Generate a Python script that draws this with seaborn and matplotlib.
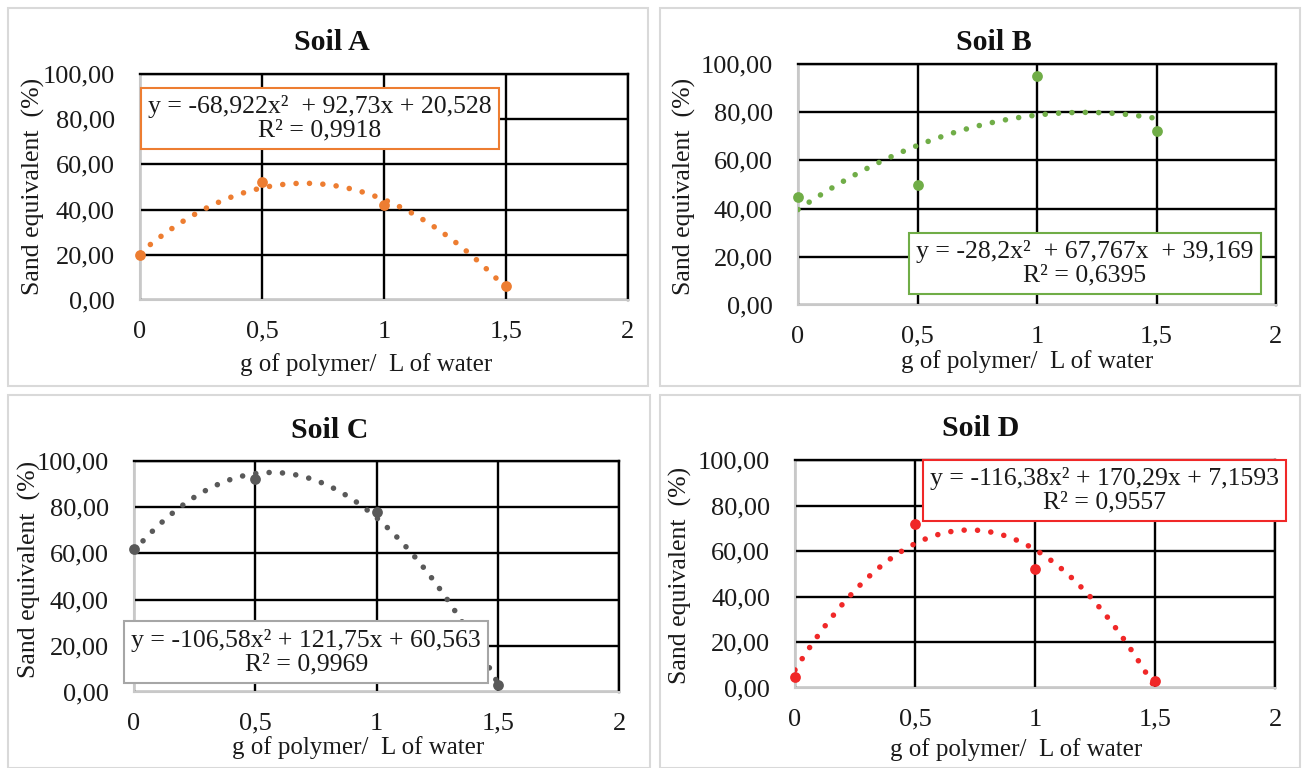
import matplotlib
matplotlib.use("Agg")
import matplotlib.pyplot as plt
import seaborn as sns
import pandas as pd
from matplotlib.patches import Rectangle

sns.set_theme(style="white")
plt.rcParams['font.family'] = ['Liberation Serif', 'DejaVu Serif']

# ---- data ----
dose = [0, 0.5, 1.0, 1.5]
soil_a = [20, 52, 42, 6]
soil_b = [45, 50, 95, 72]
soil_c = [62, 92, 78, 3]
soil_d = [5, 72, 52, 3]
titles = ["Soil A", "Soil B", "Soil C", "Soil D"]
equations = [
    "y = -68,922x\u00b2  + 92,73x + 20,528\nR\u00b2 = 0,9918",
    "y = -28,2x\u00b2  + 67,767x  + 39,169\nR\u00b2 = 0,6395",
    "y = -106,58x\u00b2 + 121,75x + 60,563\nR\u00b2 = 0,9969",
    "y = -116,38x\u00b2 + 170,29x + 7,1593\nR\u00b2 = 0,9557",
]
xticks = [0, 0.5, 1, 1.5, 2]
xticklabels = ["0", "0,5", "1", "1,5", "2"]
yticks = [0, 20, 40, 60, 80, 100]
yticklabels = ["0,00", "20,00", "40,00", "60,00", "80,00", "100,00"]
colors = ["#ED7D31", "#70AD47", "#595959", "#F02828"]

W, H = 1307, 768
fig = plt.figure(figsize=(W / 100, H / 100), dpi=100)
fig.patch.set_facecolor("white")

def fx(px):
    return px / W

def fy(py):
    return 1 - py / H

# panel frames (pixel coords)
frames = [(8, 8, 648, 386), (660, 8, 1300, 386), (8, 395, 650, 768), (660, 395, 1300, 768)]
for (x0, y0, x1, y1) in frames:
    fig.patches.append(Rectangle((fx(x0), fy(y1)), fx(x1 - x0), (y1 - y0) / H,
                                 transform=fig.transFigure, fill=False,
                                 edgecolor="#d9d9d9", linewidth=1.5))

# axes pixel boxes: left, right, top, bottom
boxes = [(140, 628, 74, 300), (798, 1276, 64, 305), (134, 619, 461, 692), (795, 1275, 460, 688)]
title_pos = [(332, 43), (994, 43), (330, 430), (981, 428)]
xlabel_pos = [(366, 365), (1027, 362), (358, 748), (1016, 750)]
ylabel_pos = [(33, 186), (684, 186), (29, 569), (680, 575)]
# equation box centers in data coords
eq_pos = [(0.738, 80.5), (1.2, 17.2), (0.71, 17.3), (1.29, 86.8)]

series = [soil_a, soil_b, soil_c, soil_d]

for i in range(4):
    l, r, t, b = boxes[i]
    ax = fig.add_axes([fx(l), fy(b), fx(r - l), (b - t) / H])
    df = pd.DataFrame({"x": dose, "y": series[i]})
    ax.set_xlim(0, 2)
    ax.set_ylim(0, 100)
    ax.set_xticks(xticks)
    ax.set_xticklabels(xticklabels)
    ax.set_yticks(yticks)
    ax.set_yticklabels(yticklabels)
    ax.grid(True, color="black", linewidth=1.7)
    ax.set_axisbelow(True)
    for s in ["top", "right"]:
        ax.spines[s].set_color("black")
        ax.spines[s].set_linewidth(1.7)
    for s in ["left", "bottom"]:
        ax.spines[s].set_color("#c8c8c8")
        ax.spines[s].set_linewidth(1.5)
    ax.tick_params(axis="both", length=0, labelsize=19, colors="#1a1a1a")
    ax.tick_params(axis="x", pad=15)
    ax.tick_params(axis="y", pad=18)

    sns.regplot(data=df, x="x", y="y", order=2, ci=None, scatter=False, truncate=True,
                ax=ax, color=colors[i],
                line_kws=dict(linewidth=4.0, linestyle=(0, (0.01, 2.4)),
                              dash_capstyle="round", zorder=3))
    sns.scatterplot(data=df, x="x", y="y", ax=ax, color=colors[i], s=60,
                    edgecolor=colors[i], linewidth=0, zorder=4, clip_on=False)
    ax.set_xlabel("")
    ax.set_ylabel("")

    ax.text(eq_pos[i][0], eq_pos[i][1], equations[i], ha="center", va="center",
            fontsize=18.5, color="#1a1a1a", linespacing=1.1, zorder=5,
            bbox=dict(boxstyle="square,pad=0.28", facecolor="white",
                      edgecolor=colors[i] if i != 2 else "#a6a6a6", linewidth=1.5))

    fig.text(fx(title_pos[i][0]), fy(title_pos[i][1]), titles[i], ha="center", va="center",
             fontsize=21.5, fontweight="bold", color="#111111")
    fig.text(fx(xlabel_pos[i][0]), fy(xlabel_pos[i][1]), "g of polymer/  L of water",
             ha="center", va="center", fontsize=18, color="#1a1a1a")
    fig.text(fx(ylabel_pos[i][0]), fy(ylabel_pos[i][1]), "Sand equivalent  (%)",
             ha="center", va="center", rotation=90, fontsize=18.5, color="#1a1a1a")

fig.savefig("out.png", dpi=100, facecolor="white")
